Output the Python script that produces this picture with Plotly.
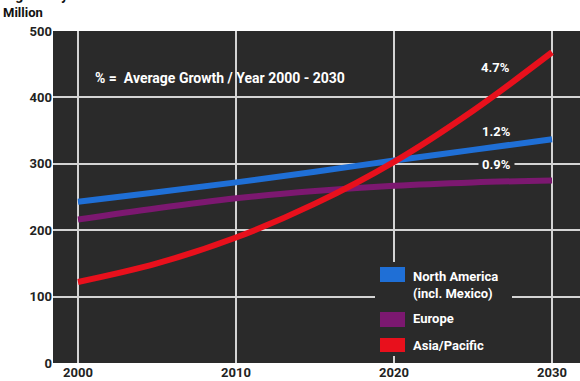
import plotly.graph_objects as go

years = [2000, 2005, 2010, 2015, 2020, 2025, 2030]
north_america = [243, 257, 272, 288, 305, 321, 337]
europe = [216, 233, 248, 259, 267, 272, 275]
asia_pacific = [122, 150, 189, 240, 303, 380, 468]

series_names = ["North America<br>(incl. Mexico)", "Europe", "Asia/Pacific"]
series_values = [north_america, europe, asia_pacific]
series_colors = ["#1f6fd6", "#7c1870", "#e8101c"]
growth_labels = ["1.2%", "0.9%", "4.7%"]

x_ticks = [2000, 2010, 2020, 2030]
y_ticks = [0, 100, 200, 300, 400, 500]

FONT = "Liberation Sans Narrow, Arial Narrow, Roboto, sans-serif"
BG = "#2a2a2a"

fig = go.Figure()
for name, vals, col in zip(series_names, series_values, series_colors):
    fig.add_trace(go.Scatter(x=years, y=vals, mode="lines", name=name,
                             line=dict(color=col, width=6, shape="spline"),
                             showlegend=False))

# growth labels
label_pos = [(2026.5, 349), (2026.5, 299), (2026.4, 445)]
for txt, (lx, ly) in zip(growth_labels, label_pos):
    fig.add_annotation(x=lx, y=ly, text=txt, showarrow=False,
                       font=dict(family=FONT, size=13, color="white", weight="bold"),
                       bgcolor=BG if txt == "0.9%" else "rgba(0,0,0,0)",
                       borderpad=3)

fig.add_annotation(x=(93 - 53) / 527, y=(363 - 68) / 332, xref="paper", yref="paper",
                   xanchor="left",
                   text="% =  Average Growth / Year 2000 - 2030", showarrow=False,
                   font=dict(family=FONT, size=14, color="white", weight="bold"))

# legend (drawn manually)
fig.add_shape(type="rect", xref="paper", yref="paper",
              x0=(375 - 53) / 527, x1=(512 - 53) / 527,
              y0=(363 - 356) / 332, y1=(363 - 262) / 332,
              fillcolor=BG, line=dict(width=0), layer="above")
leg_rows = [(267, 282, 275), (312, 327, 318), (338, 352, 345)]
for name, col, (s0, s1, ty) in zip(series_names, series_colors, leg_rows):
    fig.add_shape(type="rect", xref="paper", yref="paper",
                  x0=(380 - 53) / 527, x1=(405 - 53) / 527,
                  y0=(363 - s1) / 332, y1=(363 - s0) / 332,
                  fillcolor=col, line=dict(width=0), layer="above")
    fig.add_annotation(xref="paper", yref="paper", x=(411 - 53) / 527,
                       y=(363 - ty) / 332, xanchor="left",
                       yanchor="top" if "<br>" in name else "middle",
                       yshift=8 if "<br>" in name else 0,
                       text=name, showarrow=False, align="left",
                       font=dict(family=FONT, size=13, color="white", weight="bold"))

fig.add_annotation(xref="paper", yref="paper", x=(2 - 53) / 527, y=(363 + 5) / 332,
                   xanchor="left", yanchor="middle", text="Light Duty Vehicles",
                   showarrow=False,
                   font=dict(family=FONT, size=14, color="#111", weight="bold"))
fig.add_annotation(xref="paper", yref="paper", x=(1 - 53) / 527, y=(363 - 13) / 332,
                   xanchor="left", yanchor="middle", text="Million",
                   showarrow=False,
                   font=dict(family=FONT, size=13, color="#111", weight="bold"))

fig.update_layout(
    width=580, height=381,
    margin=dict(l=53, r=0, t=31, b=18),
    paper_bgcolor="white", plot_bgcolor=BG,
    xaxis=dict(range=[1998.42, 2031.77], tickvals=x_ticks, showgrid=True,
               gridcolor="#d4d4d4", gridwidth=2, zeroline=False, ticks="",
               tickfont=dict(family=FONT, size=13, color="#222", weight="bold"),
               showline=False, fixedrange=True),
    yaxis=dict(range=[0, 500], tickvals=y_ticks, showgrid=True,
               gridcolor="#d4d4d4", gridwidth=2, zeroline=False, ticks="",
               tickfont=dict(family=FONT, size=13, color="#222", weight="bold"),
               showline=False, fixedrange=True),
    showlegend=False,
)

fig.write_html("out.html")
